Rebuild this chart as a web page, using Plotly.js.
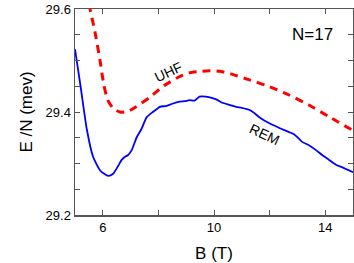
<!DOCTYPE html>
<html><head><meta charset="utf-8">
<script src="https://cdn.plot.ly/plotly-3.0.1.min.js"></script>
<style>html,body{margin:0;padding:0;background:#fff}#c{width:354px;height:263px}</style>
</head><body><div id="c"></div>
<script>
const uhfB = [5.5, 5.72, 5.9, 6.04, 6.18, 6.36, 6.61, 6.9, 7.2, 7.7, 8.2, 8.7, 9.1, 9.5, 9.85, 10.2, 10.6, 11.3, 12.0, 12.7, 13.4, 14.1, 15.0];
const uhfE = [29.61, 29.555, 29.50, 29.452, 29.423, 29.408, 29.400, 29.401, 29.41, 29.429, 29.451, 29.467, 29.476, 29.479, 29.480, 29.479, 29.474, 29.462, 29.449, 29.433, 29.414, 29.392, 29.364];
const remB = [5.0, 5.2, 5.43, 5.65, 5.9, 6.05, 6.2, 6.37, 6.55, 6.68, 6.8, 6.9, 7.04, 7.22, 7.4, 7.58, 7.8, 7.95, 8.05, 8.3, 8.5, 8.76, 8.95, 9.12, 9.3, 9.48, 9.7, 9.95, 10.1, 10.3, 10.55, 10.8, 11.0, 11.27, 11.45, 11.63, 11.99, 12.35, 12.7, 12.9, 13.17, 13.4, 13.67, 13.9, 14.14, 14.4, 14.6, 14.8, 15.0];
const remE = [29.522, 29.45, 29.365, 29.313, 29.287, 29.28, 29.276, 29.28, 29.295, 29.307, 29.313, 29.316, 29.326, 29.351, 29.368, 29.39, 29.40, 29.406, 29.41, 29.412, 29.416, 29.42, 29.421, 29.423, 29.422, 29.43, 29.43, 29.427, 29.424, 29.418, 29.414, 29.41, 29.408, 29.404, 29.398, 29.39, 29.378, 29.369, 29.361, 29.356, 29.342, 29.336, 29.326, 29.316, 29.307, 29.297, 29.293, 29.288, 29.283];
const xTickVals = [6, 8, 10, 12, 14];
const xTickText = ["6", "", "10", "", "14"];
const yTickVals = [29.2, 29.25, 29.3, 29.35, 29.4, 29.45, 29.5, 29.55, 29.6];
const yTickText = ["29.2", "", "", "", "29.4", "", "", "", "29.6"];

const F = 'Liberation Sans, Arial, sans-serif';
const traces = [
  {x: remB, y: remE, mode: 'lines', name: 'REM', line: {color: '#0000ff', width: 1.8, shape: 'spline', smoothing: 0.6}},
  {x: uhfB, y: uhfE, mode: 'lines', name: 'UHF', line: {color: '#ff0000', width: 3, dash: '8px,6px', shape: 'spline', smoothing: 0.6}}
];
const axisCommon = {showline: true, mirror: 'ticks', linecolor: '#555', linewidth: 1.5, ticks: 'inside', ticklen: 5, tickcolor: '#555', tickwidth: 1, showgrid: false, zeroline: false, tickfont: {family: F, size: 13, color: '#000'}};
const layout = {
  width: 354, height: 263,
  margin: {l: 75, r: 1, t: 9, b: 48},
  paper_bgcolor: '#fff', plot_bgcolor: '#fff',
  showlegend: false,
  xaxis: Object.assign({}, axisCommon, {range: [5, 15], tickmode: 'array', tickvals: xTickVals, ticktext: xTickText,
    title: {text: 'B (T)', font: {family: F, size: 17, color: '#000'}, standoff: 16}}),
  yaxis: Object.assign({}, axisCommon, {range: [29.2, 29.6], tickmode: 'array', tickvals: yTickVals, ticktext: yTickText, ticksuffix: '\u00a0',
    title: {text: 'E /N (mev)', font: {family: F, size: 17, color: '#000'}, standoff: 8}}),
  annotations: [
    {xref: 'paper', yref: 'paper', x: 0.853, y: 0.874, xanchor: 'center', yanchor: 'middle', text: 'N=17', showarrow: false, font: {family: F, size: 17, color: '#000'}},
    {xref: 'x', yref: 'y', x: 8.35, y: 29.478, xanchor: 'center', yanchor: 'middle', text: 'UHF', showarrow: false, textangle: -25, font: {family: F, size: 14, color: '#000'}},
    {xref: 'x', yref: 'y', x: 11.8, y: 29.357, xanchor: 'center', yanchor: 'middle', text: 'REM', showarrow: false, textangle: 25, font: {family: F, size: 14, color: '#000'}}
  ]
};
Plotly.newPlot('c', traces, layout, {staticPlot: true, displayModeBar: false});
</script></body></html>
